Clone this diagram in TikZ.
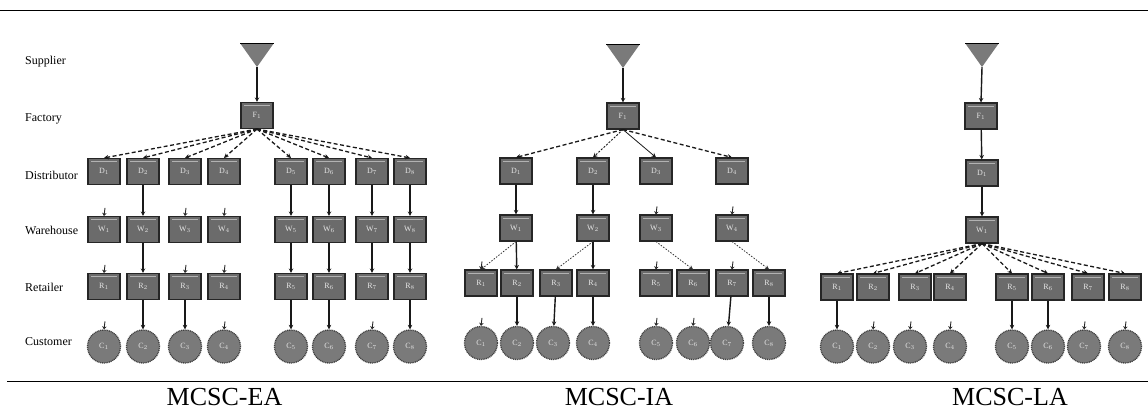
\documentclass[tikz,border=0pt]{standalone}
\usepackage{fontspec}
\setmainfont{Liberation Serif}
\usetikzlibrary{arrows.meta}

\tikzset{
  unit/.style={rectangle, draw=black!85, line width=1.1pt, fill=black!58,
    minimum width=32pt, minimum height=26pt, inner sep=0pt,
    font=\fontsize{8}{9}\selectfont, text=white!90!black,
    path picture={\draw[white!70!black, line width=0.6pt]
      ([xshift=3pt,yshift=-3pt]path picture bounding box.north west) --
      ([xshift=-3pt,yshift=-3pt]path picture bounding box.north east);}},
  cust/.style={circle, draw=black!75, line width=1.3pt, dash pattern=on 1pt off 0.8pt,
    fill=black!52, minimum size=33pt, inner sep=0pt,
    font=\fontsize{8}{9}\selectfont, text=white!90!black},
  supplier/.style={rectangle, minimum width=34pt, minimum height=24pt, inner sep=0pt,
    path picture={
      \fill[black!52] (path picture bounding box.north west) --
        (path picture bounding box.north east) -- (path picture bounding box.south) -- cycle;
      \draw[black, line width=2pt] (path picture bounding box.north west) --
        (path picture bounding box.north east);}},
  rowlabel/.style={anchor=west, font=\fontsize{12}{13}\selectfont, inner sep=0pt},
  caption/.style={anchor=base, font=\fontsize{26}{28}\selectfont, inner sep=0pt},
  flow/.style={draw=black!90, line width=1.4pt, -{Stealth[length=4.5pt,width=4.5pt]}},
  fan/.style={flow, line width=1.3pt, dash pattern=on 4pt off 2.5pt},
  lightfan/.style={flow, line width=0.9pt, dash pattern=on 2pt off 1.5pt},
  thinflow/.style={flow, line width=0.8pt},
  side/.style={draw=black!80, line width=0.8pt, dash pattern=on 1.5pt off 1.5pt,
    -{Stealth[length=4pt,width=4pt]}},
  stub/.style={draw=black!85, line width=0.9pt, -{Stealth[length=3pt,width=4.5pt]}},
}

\begin{document}
\begin{tikzpicture}[x=1pt,y=-1pt]
\useasboundingbox (0,0) rectangle (1148,410);

% frame rules
\draw[line width=1pt] (0,10) -- (1148,10);
\draw[line width=1pt] (7,381) -- (1148,381);

% tier names
\node[rowlabel] (lab-s) at (25,62)  {Supplier};
\node[rowlabel] (lab-f) at (25,119) {Factory};
\node[rowlabel] (lab-d) at (25,175) {Distributor};
\node[rowlabel] (lab-w) at (25,230) {Warehouse};
\node[rowlabel] (lab-r) at (25,287) {Retailer};
\node[rowlabel] (lab-c) at (25,342) {Customer};

% ---------------- MCSC-EA ----------------
\node[supplier] (ea-s) at (257,55) {};
\node[unit] (ea-f) at (257,115.5) {F$_{1}$};
\foreach \i/\x in {1/104,2/143,3/185,4/224,5/291,6/329,7/372,8/410} {
  \node[unit] (ea-d\i) at (\x,171.5) {D$_{\i}$};
  \node[unit] (ea-w\i) at (\x,229.5) {W$_{\i}$};
  \node[unit] (ea-r\i) at (\x,286.5) {R$_{\i}$};
  \node[cust] (ea-c\i) at (\x,346.5) {C$_{\i}$};
  \draw[fan] (ea-f.south) -- (ea-d\i.north);
}
\draw[flow] (ea-s.south) -- (ea-f.north);
\foreach \i in {2,5,6,7,8} {
  \draw[flow] (ea-d\i) -- (ea-w\i);
  \draw[flow] (ea-w\i) -- (ea-r\i);
}
\foreach \i in {2,3,5,6,8} \draw[flow] (ea-r\i) -- (ea-c\i);
\foreach \n in {ea-w1,ea-w3,ea-w4,ea-r1,ea-r3,ea-r4,ea-c1,ea-c4,ea-c7} {
  \path (\n.north) ++(1,-8) coordinate (\n-in);
  \draw[stub] (\n-in) -- (\n.north);
}

% ---------------- MCSC-IA ----------------
\node[supplier] (ia-s) at (623,56) {};
\node[unit] (ia-f) at (623,116) {F$_{1}$};
\foreach \i/\x in {1/516,2/593,3/656,4/732} {
  \node[unit] (ia-d\i) at (\x,171) {D$_{\i}$};
  \node[unit] (ia-w\i) at (\x,228) {W$_{\i}$};
}
\foreach \i/\x in {1/481,2/517,3/556,4/593,5/656,6/693,7/732,8/769}
  \node[unit] (ia-r\i) at (\x,283) {R$_{\i}$};
\foreach \i/\x in {1/481,2/517,3/553,4/593,5/656,6/693,7/727,8/769}
  \node[cust] (ia-c\i) at (\x,343) {C$_{\i}$};
\draw[flow] (ia-s.south) -- (ia-f.north);
\draw[fan] (ia-f.south) -- (ia-d1.north);
\draw[lightfan] (ia-f.south) -- (ia-d2.north);
\draw[thinflow] (ia-f.south) -- (ia-d3.north);
\draw[fan] (ia-f.south) -- (ia-d4.north);
\draw[flow] (ia-d1) -- (ia-w1);
\draw[flow] (ia-d2) -- (ia-w2);
\draw[side] (ia-w1.south) -- (ia-r1.north);
\draw[flow] (ia-w1) -- (ia-r2);
\draw[side] (ia-w2.south) -- (ia-r3.north);
\draw[flow] (ia-w2) -- (ia-r4);
\draw[side] (ia-w3.south) -- (ia-r6.north);
\draw[side] (ia-w4.south) -- (ia-r8.north);
\foreach \i in {2,3,4,7,8} \draw[flow] (ia-r\i) -- (ia-c\i);
\foreach \n in {ia-w3,ia-w4,ia-r1,ia-r5,ia-r7,ia-c1,ia-c5,ia-c6} {
  \path (\n.north) ++(1,-8) coordinate (\n-in);
  \draw[stub] (\n-in) -- (\n.north);
}

% ---------------- MCSC-LA ----------------
\node[supplier] (la-s) at (982,55) {};
\node[unit] (la-f) at (981,116) {F$_{1}$};
\node[unit] (la-d) at (982,173) {D$_{1}$};
\node[unit] (la-w) at (982,230) {W$_{1}$};
\draw[flow] (la-s.south) -- (la-f.north);
\draw[flow] (la-f) -- (la-d);
\draw[flow] (la-d) -- (la-w);
\foreach \i/\x in {1/837,2/873,3/915,4/950,5/1012,6/1048,7/1088,8/1125} {
  \node[unit] (la-r\i) at (\x,287) {R$_{\i}$};
  \draw[fan] (la-w.south) -- (la-r\i.north);
}
\foreach \i/\x in {1/837,2/873,3/910,4/950,5/1012,6/1048,7/1084,8/1125}
  \node[cust] (la-c\i) at (\x,346.5) {C$_{\i}$};
\foreach \i in {1,5,6} \draw[flow] (la-r\i) -- (la-c\i);
\foreach \n in {la-c2,la-c3,la-c4,la-c7,la-c8} {
  \path (\n.north) ++(1,-8) coordinate (\n-in);
  \draw[stub] (\n-in) -- (\n.north);
}

% model names
\node[caption] (cap-ea) at (224.5,405) {MCSC-EA};
\node[caption] (cap-ia) at (619,405) {MCSC-IA};
\node[caption] (cap-la) at (1010,405) {MCSC-LA};
\end{tikzpicture}
\end{document}
